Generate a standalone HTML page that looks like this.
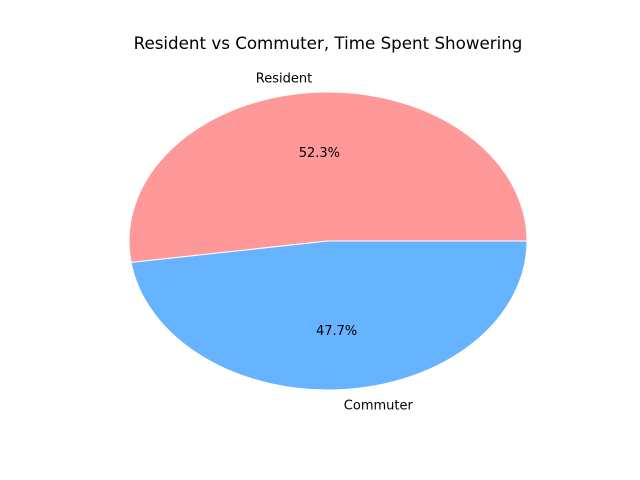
<!DOCTYPE html>
<html><head><meta charset="utf-8"><style>
body{margin:0;background:#fff}
svg{display:block;font-family:"DejaVu Sans","Liberation Sans",sans-serif}
</style></head><body>
<svg width="640" height="480">
<rect width="640" height="480" fill="#fff"/>
<text x="328" y="49" font-size="16.7" text-anchor="middle">Resident vs Commuter, Time Spent Showering</text>
<g id="pie"></g>
</svg>
<script>
const categories=["Resident","Commuter"];
const values=[52.3,47.7];
const colors=["#ff9999","#66b3ff"];
const cx=328,cy=241,rx=199,ry=149;
const g=document.getElementById('pie');
const NS='http://www.w3.org/2000/svg';
const total=values.reduce((a,b)=>a+b,0);
let a0=0;
values.forEach((v,i)=>{
  const a1=a0+v/total*360;
  const r0=a0*Math.PI/180,r1=a1*Math.PI/180;
  const x0=cx+rx*Math.cos(r0),y0=cy-ry*Math.sin(r0);
  const x1=cx+rx*Math.cos(r1),y1=cy-ry*Math.sin(r1);
  const large=(a1-a0)>180?1:0;
  const p=document.createElementNS(NS,'path');
  p.setAttribute('d',`M${cx},${cy}L${x0},${y0}A${rx},${ry} 0 ${large} 0 ${x1},${y1}Z`);
  p.setAttribute('fill',colors[i]);p.setAttribute('stroke','#fff');p.setAttribute('stroke-width','1');
  
  
  g.appendChild(p);
  const m=(a0+a1)/2*Math.PI/180,c=Math.cos(m),s=Math.sin(m);
  const t=document.createElementNS(NS,'text');
  t.setAttribute('x',cx+1.1*rx*c);t.setAttribute('y',cy-1.1*ry*s+5);
  t.setAttribute('font-size','13');t.setAttribute('text-anchor',c>0?'start':'end');
  t.textContent=categories[i];
  
  
  g.appendChild(t);
  const q=document.createElementNS(NS,'text');
  q.setAttribute('x',cx+0.6*rx*c);q.setAttribute('y',cy-0.6*ry*s+5);
  q.setAttribute('font-size','13');q.setAttribute('text-anchor','middle');
  q.textContent=(v/total*100).toFixed(1)+'%';
  
  
  g.appendChild(q);
  a0=a1;
});
</script>
</body></html>
